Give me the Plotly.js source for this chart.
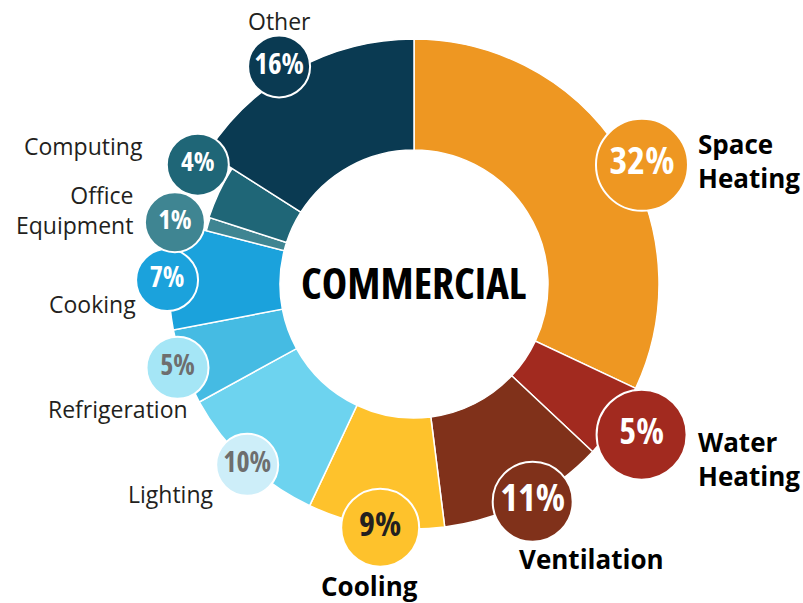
<!DOCTYPE html>
<html>
<head>
<meta charset="utf-8">
<script src="https://cdn.plot.ly/plotly-3.0.1.min.js"></script>
<style>
html,body{margin:0;padding:0;background:#fff;}
#chart{width:803px;height:603px;}
g.textpoint text{font-stretch:75%;}
text[data-unformatted="COMMERCIAL"]{font-stretch:75%;}
</style>
</head>
<body>
<div id="chart"></div>
<script>
// ---- data ----
var categories = ['Space Heating', 'Water Heating', 'Ventilation', 'Cooling', 'Lighting',
                  'Refrigeration', 'Cooking', 'Office Equipment', 'Computing', 'Other'];
var values = [32, 5, 11, 9, 10, 5, 7, 1, 4, 16];
var centerLabel = 'COMMERCIAL';

// ---- styles ----
var sliceColors = ['#EE9722', '#A22A1F', '#80311A', '#FEC22C', '#6DD3EF',
                   '#45BBE3', '#1BA2DC', '#3F8592', '#1F6677', '#0A3A52'];
var circleColors = ['#EE9722', '#A22A1F', '#80311A', '#FEC22C', '#CDEEF9',
                    '#A5E6F6', '#1BA2DC', '#3F8592', '#1F6677', '#0A3A52'];
var pctColors = ['#FFFFFF', '#FFFFFF', '#FFFFFF', '#231F20', '#6E6E6E',
                 '#6E6E6E', '#FFFFFF', '#FFFFFF', '#FFFFFF', '#FFFFFF'];
var pctSizes = [38, 36, 38, 34, 28, 28, 28, 27, 27, 29];
var circleSizes = [92, 90, 80, 78, 62, 62, 62, 60, 62, 62];
var outerR = [1, 1, 1, 1, 1, 1, 1, 0.875, 0.88, 1];
var circleR = [1.05, 1.114, 1.012, 1.004, 1.004, 1.024, 1.008, 1.008, 1.008, 1.045];
var circleDTheta = [4.8, -0.7, -1.6, -1.1, -0.5, 0.3, -0.9, -1.7, 3.7, -3.0];
var holeR = 0.547;
// label placement in pixels (x, y centre of text box), anchor, bold
var labelText = ['Space<br>Heating', 'Water<br>Heating', 'Ventilation', 'Cooling', 'Lighting',
                 'Refrigeration', 'Cooking', 'Office<br>Equipment', 'Computing', 'Other'];
var labelPos = [[696, 161.5, 'left'], [696, 459, 'left'], [591, 559, 'center'], [369, 586, 'center'],
                [171, 493.5, 'center'], [118, 408.5, 'center'], [92, 303.5, 'center'],
                [135, 209.5, 'right'], [83, 146.5, 'center'], [279, 20.5, 'center']];
var labelBold = [true, true, true, true, false, false, false, false, false, false];

// ---- geometry ----
var W = 803, H = 603;
var cx = 414, cy = 284, pxPerUnit = 245, rMax = 1.15;
var rad = rMax * pxPerUnit;

var total = values.reduce(function (a, b) { return a + b; }, 0);
var mids = [], widths = [];
var acc = 0;
values.forEach(function (v) {
  var w = v / total * 360;
  mids.push(acc + w / 2);
  widths.push(w);
  acc += w;
});

var slices = {
  type: 'barpolar',
  theta: mids,
  width: widths,
  base: values.map(function () { return holeR; }),
  r: outerR.map(function (o) { return o - holeR; }),
  marker: { color: sliceColors, line: { color: '#FFFFFF', width: 1.5 } },
  hoverinfo: 'skip'
};

var circles = {
  type: 'scatterpolar',
  mode: 'markers+text',
  theta: mids.map(function (m, i) { return m + circleDTheta[i]; }),
  r: circleR,
  text: values.map(function (v) { return v + '%'; }),
  textposition: 'middle center',
  textfont: { family: 'Open Sans, sans-serif', size: pctSizes, color: pctColors, weight: 'bold' },
  marker: { size: circleSizes, color: circleColors, opacity: 1, line: { color: '#FFFFFF', width: 2 } },
  cliponaxis: false,
  hoverinfo: 'skip'
};

var annotations = categories.map(function (c, i) {
  var p = labelPos[i];
  return {
    xref: 'paper', yref: 'paper',
    x: p[0] / W, y: 1 - p[1] / H,
    xanchor: p[2], yanchor: 'middle', align: p[2] === 'center' ? 'center' : p[2],
    text: labelText[i],
    showarrow: false,
    font: labelBold[i]
      ? { family: 'Open Sans, sans-serif', size: 26, color: '#000000', weight: 'bold' }
      : { family: 'Open Sans, sans-serif', size: 23, color: '#231F20' }
  };
});
annotations.push({
  xref: 'paper', yref: 'paper', x: cx / W, y: 1 - 282 / H,
  xanchor: 'center', yanchor: 'middle', showarrow: false,
  text: centerLabel,
  font: { family: 'Open Sans, sans-serif', size: 43, color: '#000000', weight: 'bold' }
});

var layout = {
  width: W, height: H,
  margin: { l: 0, r: 0, t: 0, b: 0 },
  paper_bgcolor: '#FFFFFF',
  showlegend: false,
  hovermode: false,
  polar: {
    domain: { x: [(cx - rad) / W, (cx + rad) / W], y: [(H - cy - rad) / H, (H - cy + rad) / H] },
    bgcolor: 'rgba(0,0,0,0)',
    radialaxis: { range: [0, rMax], visible: false, showgrid: false },
    angularaxis: { rotation: 90, direction: 'clockwise', visible: false, showgrid: false },
  },
  annotations: annotations
};

Plotly.newPlot('chart', [slices, circles], layout, { displayModeBar: false, staticPlot: true });
</script>
</body>
</html>
